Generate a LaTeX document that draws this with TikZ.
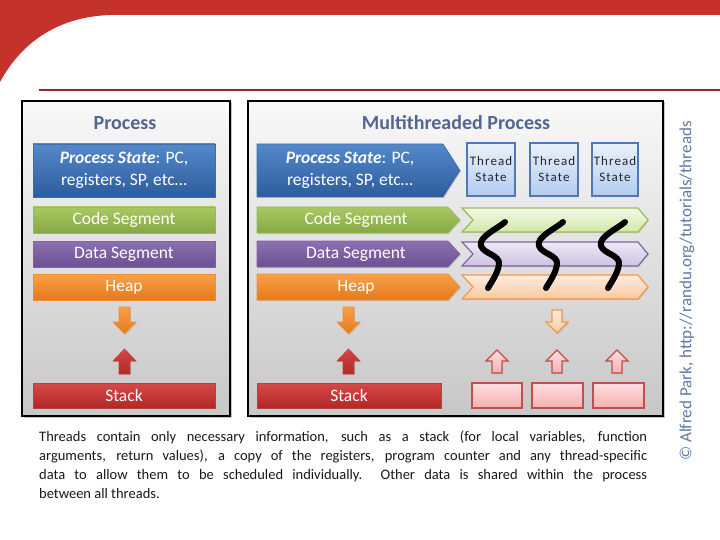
\documentclass[tikz,border=0pt]{standalone}
\usepackage{fontspec}
\setmainfont{Carlito}
\usetikzlibrary{shadows}
\definecolor{bannerred}{HTML}{C5312B}
\definecolor{linered}{HTML}{8E2A2A}
\definecolor{titleblue}{HTML}{52668E}
\definecolor{credit}{HTML}{6079A3}
\tikzset{
  panel/.style={draw=black,line width=2pt,top color=white!95!gray,bottom color=black!22,
    drop shadow={opacity=0.45,shadow xshift=1.5pt,shadow yshift=-1.5pt}},
  seg/.style={drop shadow={opacity=0.25,shadow xshift=1pt,shadow yshift=-1pt}},
  blueseg/.style={seg,top color={rgb,255:red,84;green,136;blue,204},bottom color={rgb,255:red,44;green,92;blue,156},draw={rgb,255:red,60;green,110;blue,170},line width=0.6pt},
  greenseg/.style={seg,top color={rgb,255:red,168;green,200;blue,98},bottom color={rgb,255:red,134;green,168;blue,68},draw={rgb,255:red,150;green,185;blue,85},line width=0.6pt},
  purpleseg/.style={seg,top color={rgb,255:red,140;green,112;blue,178},bottom color={rgb,255:red,108;green,80;blue,145},draw={rgb,255:red,128;green,100;blue,162},line width=0.6pt},
  orangeseg/.style={seg,top color={rgb,255:red,249;green,160;blue,72},bottom color={rgb,255:red,228;green,122;blue,28},draw={rgb,255:red,240;green,140;blue,50},line width=0.6pt},
  redseg/.style={seg,top color={rgb,255:red,214;green,74;blue,71},bottom color={rgb,255:red,176;green,40;blue,40},draw={rgb,255:red,190;green,60;blue,58},line width=0.6pt},
  lgreen/.style={seg,top color={rgb,255:red,244;green,250;blue,230},bottom color={rgb,255:red,208;green,232;blue,168},draw={rgb,255:red,155;green,187;blue,89},line width=1.2pt},
  lpurple/.style={seg,top color={rgb,255:red,238;green,233;blue,246},bottom color={rgb,255:red,206;green,194;blue,226},draw={rgb,255:red,128;green,100;blue,162},line width=1.2pt},
  lorange/.style={seg,top color={rgb,255:red,254;green,236;blue,222},bottom color={rgb,255:red,250;green,200;blue,160},draw={rgb,255:red,247;green,150;blue,70},line width=1.2pt},
  lred/.style={seg,top color={rgb,255:red,252;green,222;blue,222},bottom color={rgb,255:red,244;green,176;blue,176},draw={rgb,255:red,192;green,80;blue,77},line width=1.2pt},
  threadbox/.style={seg,top color={rgb,255:red,234;green,241;blue,252},bottom color={rgb,255:red,178;green,204;blue,240},draw={rgb,255:red,80;green,120;blue,180},line width=1.2pt},
  segtext/.style={text=white,font=\fontsize{17.5}{20}\selectfont,inner sep=0pt},
  pstext/.style={text=white,font=\fontsize{17.5}{22}\selectfont,align=center,inner sep=0pt},
  paneltitle/.style={text=titleblue,font=\fontsize{20}{22}\selectfont\bfseries,inner sep=0pt},
  thtext/.style={text=black!85,font=\addfontfeature{LetterSpace=8}\fontsize{13}{16}\selectfont,align=center,inner sep=0pt},
  squig/.style={line width=6pt,line cap=round,black}
}
\begin{document}
\begin{tikzpicture}[x=1pt,y=-1pt]
\useasboundingbox (0,0) rectangle (720,540);
\fill[white] (0,0) rectangle (720,540);
% banner
\fill[bannerred] (0,0) -- (720,0) -- (720,15) -- (110,15) .. controls (55,17) and (20,45) .. (0,82) -- cycle;
\draw[linered,line width=2pt] (39,90) -- (720,90);
% panels
\path[panel] (22,101) rectangle (230,416);
\path[panel] (248,101) rectangle (663,416);
\node[paneltitle] (t1) at (125,123) {Process};
\node[paneltitle] (t2) at (456,123) {Multithreaded Process};
% left column
\path[blueseg] (33,144) rectangle (215,197);
\node[pstext] (ps1) at (124,170.5) {\textbf{\textit{Process State}}: PC,\\registers, SP, etc\ldots};
\path[greenseg] (33,207) rectangle (215,233);
\node[segtext] (cs1) at (124,220) {Code Segment};
\path[purpleseg] (33,241) rectangle (215,267);
\node[segtext] (ds1) at (124,254) {Data Segment};
\path[orangeseg] (33,274) rectangle (215,300);
\node[segtext] (hp1) at (124,287) {Heap};
\path[redseg] (33,383) rectangle (215,408);
\node[segtext] (st1) at (124,395.5) {Stack};
% left arrows
\path[orangeseg] (119,307) -- (130,307) -- (130,322) -- (136,322) -- (124.5,334) -- (113,322) -- (119,322) -- cycle;
\path[redseg] (124.5,349) -- (136,361) -- (130,361) -- (130,374) -- (119,374) -- (119,361) -- (113,361) -- cycle;
% right column main
\path[blueseg] (257,144) -- (443,144) -- (460,170.5) -- (443,197) -- (257,197) -- cycle;
\node[pstext] (ps2) at (350,170.5) {\textbf{\textit{Process State}}: PC,\\registers, SP, etc\ldots};
\path[greenseg] (257,207) -- (448,207) -- (460,220) -- (448,233) -- (257,233) -- cycle;
\node[segtext] (cs2) at (356,220) {Code Segment};
\path[purpleseg] (257,241) -- (448,241) -- (460,254) -- (448,267) -- (257,267) -- cycle;
\node[segtext] (ds2) at (356,254) {Data Segment};
\path[orangeseg] (257,274) -- (448,274) -- (460,287) -- (448,300) -- (257,300) -- cycle;
\node[segtext] (hp2) at (356,287) {Heap};
\path[redseg] (257,383) rectangle (441,408);
\node[segtext] (st2) at (349,395.5) {Stack};
% light chevrons
\path[lgreen] (462,208) -- (638,208) -- (648,220) -- (638,232) -- (462,232) -- (473,220) -- cycle;
\path[lpurple] (462,242) -- (638,242) -- (648,254) -- (638,266) -- (462,266) -- (473,254) -- cycle;
\path[lorange] (462,275) -- (638,275) -- (648,287) -- (638,299) -- (462,299) -- (473,287) -- cycle;
% thread state boxes
\path[threadbox] (467,143) rectangle (515,196);
\node[thtext] (ts1) at (491,169.5) {Thread\\State};
\path[threadbox] (530,143) rectangle (578,196);
\node[thtext] (ts2) at (554,169.5) {Thread\\State};
\path[threadbox] (592,143) rectangle (638,196);
\node[thtext] (ts3) at (615,169.5) {Thread\\State};
% squiggles
\foreach \cx in {505,563,625} {
  \draw[squig] (\cx,222) .. controls (\cx-8,229) and (\cx-27,237) .. (\cx-24,246)
     .. controls (\cx-21,254) and (\cx-5,255) .. (\cx-6,264)
     .. controls (\cx-7,273) and (\cx-13,281) .. (\cx-17,288);
}
% right arrows
\path[orangeseg] (343,307) -- (354,307) -- (354,322) -- (360,322) -- (348.5,334) -- (337,322) -- (343,322) -- cycle;
\path[redseg] (348.5,349) -- (360,361) -- (354,361) -- (354,374) -- (343,374) -- (343,361) -- (337,361) -- cycle;
\path[lorange] (552,310) -- (562,310) -- (562,322) -- (568,322) -- (557,333) -- (546,322) -- (552,322) -- cycle;
\foreach \ax in {497,557,617} {
  \path[lred] (\ax,350) -- (\ax+11,361) -- (\ax+5,361) -- (\ax+5,373) -- (\ax-5,373) -- (\ax-5,361) -- (\ax-11,361) -- cycle;
}
\path[lred] (472,383) rectangle (522,408);
\path[lred] (532,383) rectangle (583,408);
\path[lred] (593,383) rectangle (644,408);
% footer
\node[anchor=north west,inner sep=0pt,text=black!90] (foot) at (39,431) {\parbox{608pt}{\fontsize{14.5}{19}\selectfont
Threads contain only necessary information, such as a stack (for local variables, function\linebreak
arguments, return values), a copy of the registers, program counter and any thread-specific\linebreak
data to allow them to be scheduled individually.\ \ Other data is shared within the process\linebreak
between all threads.}};
% credit
\node[rotate=90,text=credit,font=\fontsize{17}{18}\selectfont,inner sep=0pt] (cr) at (687,291) {© Alfred Park, http://randu.org/tutorials/threads};
\end{tikzpicture}
\end{document}
